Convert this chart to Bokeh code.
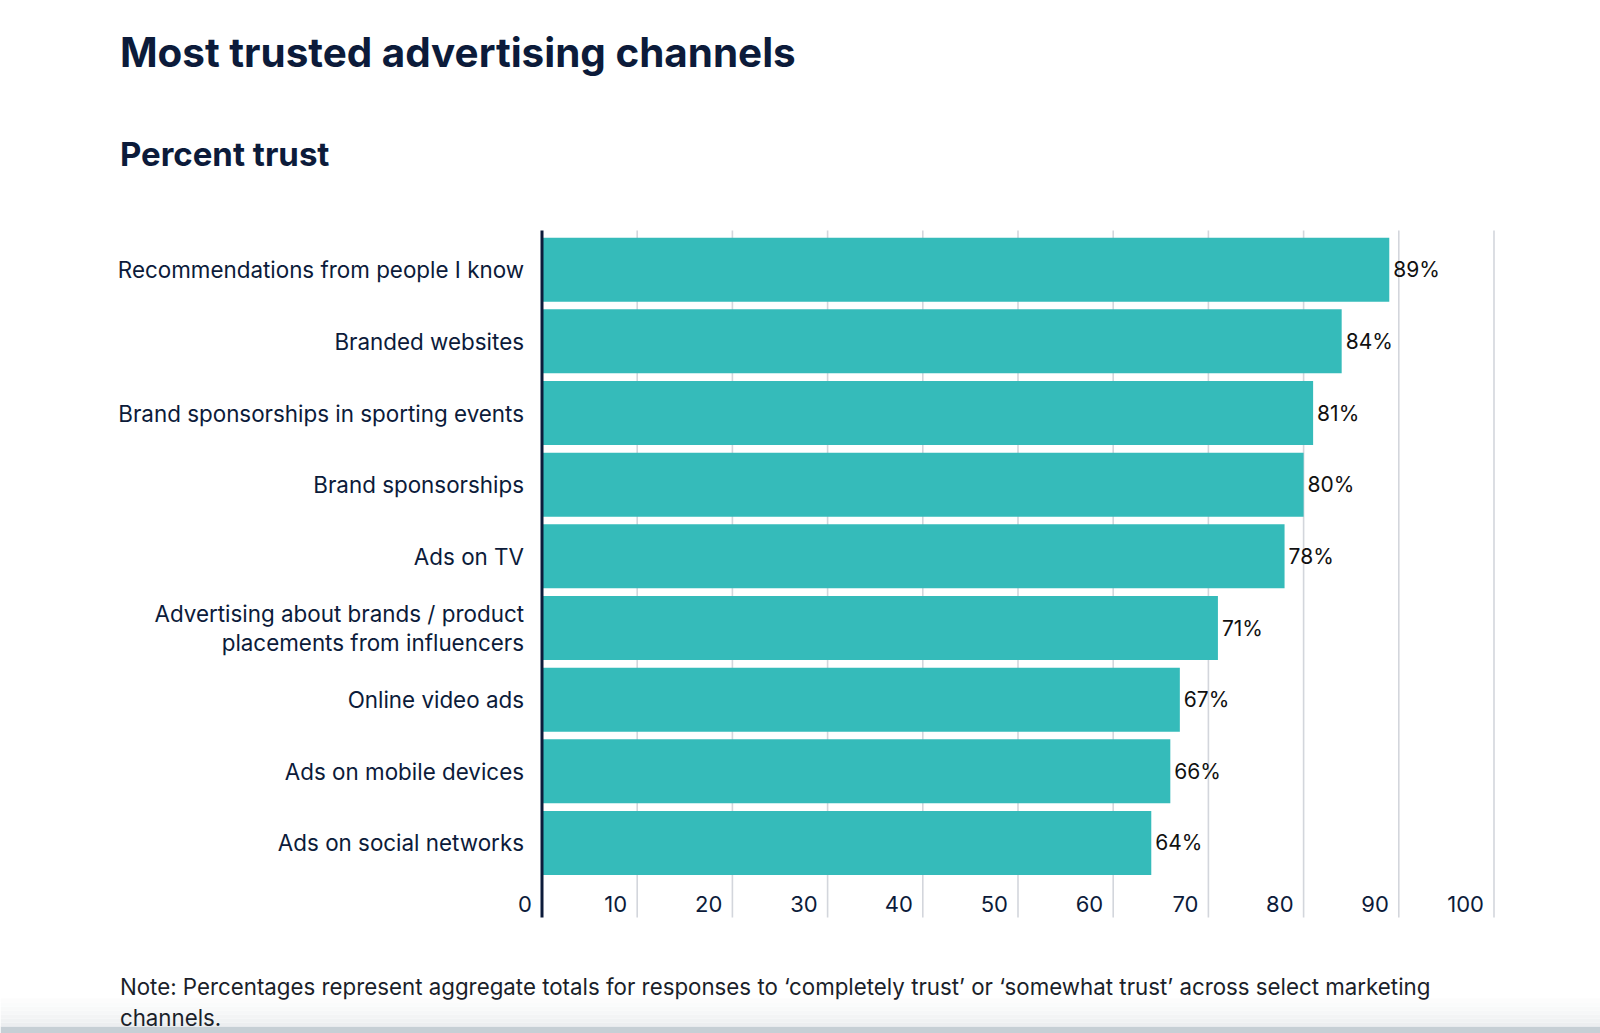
from bokeh.plotting import figure
from bokeh.models import ColumnDataSource, Label, Range1d, BoxAnnotation
from bokeh.core.properties import value
from bokeh.embed import file_html
from bokeh.resources import INLINE

# ---------------- data ----------------
categories = [
    "Recommendations from people I know",
    "Branded websites",
    "Brand sponsorships in sporting events",
    "Brand sponsorships",
    "Ads on TV",
    "Advertising about brands / product\nplacements from influencers",
    "Online video ads",
    "Ads on mobile devices",
    "Ads on social networks",
]
values = [89, 84, 81, 80, 78, 71, 67, 66, 64]
x_ticks = [0, 10, 20, 30, 40, 50, 60, 70, 80, 90, 100]
x_tick_labels = [str(t) for t in x_ticks]

title_text = "Most trusted advertising channels"
subtitle_text = "Percent trust"
note_line1 = ("Note: Percentages represent aggregate totals for responses to "
              "\u2018completely trust\u2019 or \u2018somewhat trust\u2019 across select marketing")
note_line2 = "channels."

# ---------------- layout / styles ----------------
FONT = "Inter"
NAVY = "#0c1b3a"
TEAL = "#35bbba"
GRID = "#d3d6dc"

W, H = 1600, 1033
X0_PX = 541.5                # canvas x of value 0
PX_PER_X = 9.52              # pixels per percent
Y0_PX = 269.2                # canvas y of the first bar's centre
PX_PER_ROW = 71.66           # pixels per category row
PLOT_TOP_PX, PLOT_BOTTOM_PX = 230, 917
TICKLBL_PX = 903

def y_of(px):                # canvas y (from top) -> data y
    return (Y0_PX - px) / PX_PER_ROW

positions = [-i for i in range(len(categories))]

p = figure(
    width=W, height=H,
    x_range=Range1d(-X0_PX / PX_PER_X, (W - X0_PX) / PX_PER_X),
    y_range=Range1d(y_of(H), y_of(0)),
    output_backend="svg",
    toolbar_location=None,
    min_border=0,
)
p.min_border_left = p.min_border_right = p.min_border_top = p.min_border_bottom = 0
p.axis.visible = False
p.grid.visible = False
p.outline_line_color = None
p.background_fill_color = "white"
p.border_fill_color = "white"

y_top, y_bot = y_of(PLOT_TOP_PX), y_of(PLOT_BOTTOM_PX)

# gridlines (10..100) and the vertical axis line at 0
grid_ticks = x_ticks[1:]
p.segment(x0=grid_ticks, x1=grid_ticks, y0=[y_bot] * len(grid_ticks), y1=[y_top] * len(grid_ticks),
          line_color=GRID, line_width=1.6)

src = ColumnDataSource(dict(
    y=positions,
    v=values,
    lbl=[f"{v}%" for v in values],
    cat=categories,
    zero=[0] * len(values),
))
p.hbar(y="y", left=0, right="v", height=0.893, source=src,
       fill_color=TEAL, line_color=None)

p.segment(x0=[0], x1=[0], y0=[y_bot], y1=[y_top], line_color=NAVY, line_width=3)

# value labels
p.text(x="v", y="y", text="lbl", source=src, x_offset=4,
       text_baseline="middle", text_align="left",
       text_font=value(FONT), text_font_size="21px", text_color="#111111")

# category labels
p.text(x="zero", y="y", text="cat", source=src, x_offset=-18,
       text_baseline="middle", text_align="right", text_line_height=1.1,
       text_font=value(FONT), text_font_size="22.4px", text_color=NAVY)

# x tick labels, right-aligned to each gridline
tsrc = ColumnDataSource(dict(x=x_ticks, y=[y_of(TICKLBL_PX)] * len(x_ticks), t=x_tick_labels))
p.text(x="x", y="y", text="t", source=tsrc, x_offset=-10,
       text_baseline="middle", text_align="right",
       text_font=value(FONT), text_font_size="22px", text_color=NAVY)

# bottom edge shade of the page screenshot
shade = [("#c6cfd5", 0, 7), ("#eceef0", 7, 11), ("#f0f2f3", 11, 15), ("#f3f4f5", 15, 19),
         ("#f6f7f8", 19, 23), ("#f8f9f9", 23, 27), ("#fafbfb", 27, 31), ("#fcfcfc", 31, 35)]
for c, b, t in shade:
    p.add_layout(BoxAnnotation(left=0, right=W, bottom=b, top=t,
                               left_units="screen", right_units="screen",
                               bottom_units="screen", top_units="screen",
                               fill_color=c, fill_alpha=1.0, line_color=None))

# titles and note (screen units)
def screen_label(text, x, y_param, size, style="normal", color=NAVY):
    p.add_layout(Label(text=text, x=x, y=H - y_param, x_units="screen", y_units="screen",
                       text_font=FONT, text_font_size=size, text_font_style=style,
                       text_color=color, text_baseline="alphabetic", text_align="left"))

screen_label(title_text, 119.4, 51.5, "40.4px", "bold")
screen_label(subtitle_text, 119.4, 153.5, "33px", "bold")
screen_label(note_line1, 119.4, 986, "22.3px", "normal", "#1b1f2a")
screen_label(note_line2, 119.4, 1017, "22.3px", "normal", "#1b1f2a")

open("out.html", "w").write(file_html(p, INLINE))
